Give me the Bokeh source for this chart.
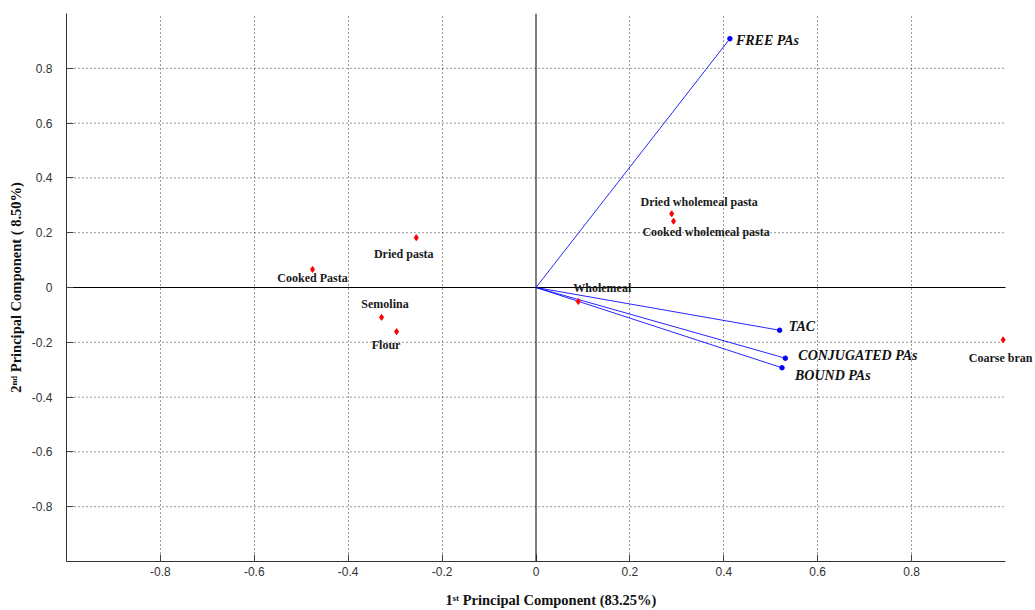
from bokeh.plotting import figure
from bokeh.models import Range1d, FixedTicker, Span, Label
from bokeh.embed import file_html
from bokeh.resources import INLINE

# ---- data ----
var_names = ["FREE PAs", "TAC", "CONJUGATED PAs", "BOUND PAs"]
var_pc1 = [0.413, 0.519, 0.531, 0.524]
var_pc2 = [0.908, -0.156, -0.258, -0.293]

sample_names = ["Cooked Pasta", "Dried pasta", "Semolina", "Flour", "Wholemeal",
                "Dried wholemeal pasta", "Cooked wholemeal pasta", "Coarse bran"]
sample_pc1 = [-0.476, -0.255, -0.329, -0.297, 0.090, 0.289, 0.293, 0.995]
sample_pc2 = [0.066, 0.182, -0.109, -0.161, -0.051, 0.269, 0.242, -0.191]

tick_values = [-0.8, -0.6, -0.4, -0.2, 0, 0.2, 0.4, 0.6, 0.8]
tick_labels = ["-0.8", "-0.6", "-0.4", "-0.2", "0", "0.2", "0.4", "0.6", "0.8"]

x_title = "1\u02e2\u1d57 Principal Component (83.25%)"
y_title = "2\u207f\u1d48 Principal Component ( 8.50%)"

# ---- label placement (pixels: dx right, dy down) ----
var_label_off = [(6, 2), (9, -4), (13, -3), (13, 8)]
sample_label_off = [(0, 9), (-12.5, 16), (3.5, -13), (-10.5, 13), (24, -13.5),
                    (27.5, -11.6), (32.5, 11.3), (-2.5, 17.7)]

# plotted area runs from -1 to 1; a little extra room on the right for the last label
x_end = -1 + 969 / 469.5

p = figure(width=1035, height=610, output_backend="svg", toolbar_location=None,
           x_range=Range1d(-1, x_end), y_range=Range1d(-1, 1))
p.title.visible = False
p.min_border_left = 66
p.min_border_top = 13
p.min_border_bottom = 49
p.min_border_right = 0
p.outline_line_color = None
p.background_fill_color = "white"

for ax in (p.xaxis[0], p.yaxis[0]):
    ax.ticker = FixedTicker(ticks=tick_values)
    ax.major_label_overrides = {v: s for v, s in zip(tick_values, tick_labels)}
    ax.bounds = (-1, 1)
    ax.major_tick_in = 7
    ax.major_tick_out = 0
    ax.minor_tick_line_color = None
    ax.axis_line_color = "#333333"
    ax.axis_line_width = 1
    ax.major_tick_line_color = "#444444"
    ax.major_label_text_font = "Liberation Sans"
    ax.major_label_text_font_size = "12px"
    ax.major_label_text_color = "#333333"
    ax.axis_label_text_font = "Liberation Serif"
    ax.axis_label_text_font_style = "bold"
    ax.axis_label_text_font_size = "14.5px"
    ax.axis_label_text_color = "#111111"
p.xaxis.major_label_standoff = 5
p.yaxis.major_label_standoff = 14
p.xaxis.axis_label = x_title
p.yaxis.axis_label = y_title
p.xaxis.axis_label_standoff = 13
p.yaxis.axis_label_standoff = 5

# vertical dotted grid
p.xgrid.ticker = FixedTicker(ticks=[t for t in tick_values if t != 0])
p.xgrid.grid_line_color = "black"
p.xgrid.grid_line_alpha = 0.8
p.xgrid.grid_line_dash = "1 3"
p.ygrid.visible = False

# horizontal dotted grid, limited to the -1..1 box
hticks = [t for t in tick_values if t != 0]
p.segment(x0=[-1] * len(hticks), x1=[1] * len(hticks), y0=hticks, y1=hticks,
          line_color="black", line_alpha=0.8, line_dash="1 3", line_width=1)

# zero lines
p.add_layout(Span(location=0, dimension="height", line_color="black", line_width=1))
p.segment(x0=[-1], x1=[1], y0=[0], y1=[0], line_color="black", line_width=1)

# loading vectors
p.segment(x0=[0] * len(var_pc1), y0=[0] * len(var_pc2), x1=var_pc1, y1=var_pc2,
          line_color="#0000ff", line_width=1, line_alpha=0.85)
p.scatter(var_pc1, var_pc2, size=4.5, color="#0000ff", marker="circle")

# sample scores
p.scatter(sample_pc1, sample_pc2, size=6, color="#ff0000", marker="diamond")

for name, x, y, (dx, dy) in zip(var_names, var_pc1, var_pc2, var_label_off):
    p.add_layout(Label(x=x, y=y, x_offset=dx, y_offset=-dy, text=name,
                       text_font="Liberation Serif", text_font_style="bold italic",
                       text_font_size="14px", text_color="#111111",
                       text_align="left", text_baseline="middle"))

for name, x, y, (dx, dy) in zip(sample_names, sample_pc1, sample_pc2, sample_label_off):
    p.add_layout(Label(x=x, y=y, x_offset=dx, y_offset=-dy, text=name,
                       text_font="Liberation Serif", text_font_style="bold",
                       text_font_size="12px", text_color="#1a1a1a",
                       text_align="center", text_baseline="middle"))

open("out.html", "w").write(file_html(p, INLINE))
